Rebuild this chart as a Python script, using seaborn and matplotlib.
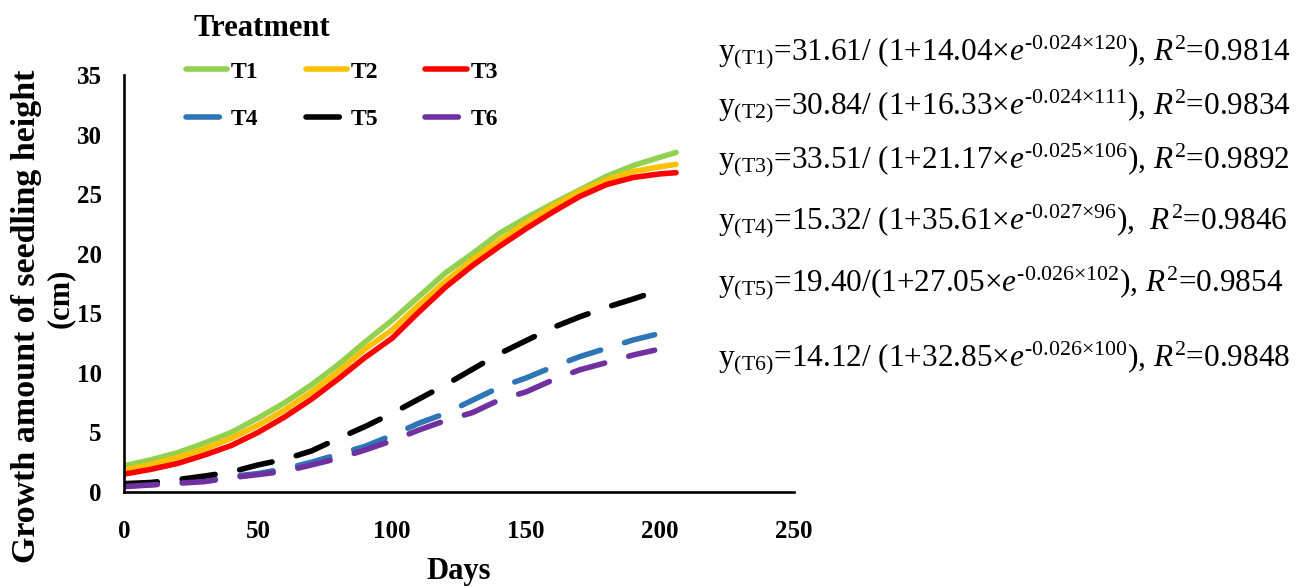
import numpy as np
import pandas as pd
import matplotlib
matplotlib.use("Agg")
import matplotlib.pyplot as plt
import seaborn as sns

# values (cm)
days_solid = [0, 10, 20, 30, 40, 50, 60, 70, 80, 90, 100, 110, 120, 130, 140, 150, 160, 170, 180, 190, 200, 206]
days_dash = [0, 10, 20, 30, 40, 50, 60, 70, 80, 90, 100, 110, 120, 130, 140, 150, 160, 170, 180, 190, 198]

t1 = [2.2, 2.7, 3.3, 4.1, 5.0, 6.2, 7.5, 9.0, 10.7, 12.6, 14.4, 16.4, 18.4, 20.0, 21.7, 23.0, 24.2, 25.35, 26.5, 27.4, 28.1, 28.5]
t2 = [1.85, 2.3, 2.9, 3.6, 4.5, 5.6, 6.9, 8.4, 10.1, 12.0, 13.6, 15.7, 17.7, 19.5, 21.1, 22.6, 24.0, 25.2, 26.2, 26.9, 27.3, 27.5]
t3 = [1.5, 1.9, 2.4, 3.1, 3.9, 5.0, 6.3, 7.8, 9.5, 11.3, 12.9, 15.1, 17.2, 19.0, 20.6, 22.1, 23.5, 24.8, 25.8, 26.4, 26.7, 26.8]
t4 = [0.5, 0.62, 0.78, 0.95, 1.3, 1.55, 1.95, 2.5, 3.17, 3.84, 4.75, 5.77, 6.6, 7.7, 8.78, 9.57, 10.5, 11.36, 12.06, 12.76, 13.2]
t5 = [0.7, 0.8, 1.04, 1.34, 1.68, 2.27, 2.75, 3.45, 4.5, 5.5, 6.6, 7.8, 9.0, 10.3, 11.6, 12.7, 13.8, 14.7, 15.5, 16.2, 16.8]
t6 = [0.45, 0.59, 0.73, 0.87, 1.2, 1.46, 1.74, 2.27, 2.83, 3.53, 4.3, 5.2, 6.0, 6.66, 7.72, 8.4, 9.4, 10.25, 10.86, 11.5, 11.9]

treatments = ["T1", "T2", "T3", "T4", "T5", "T6"]
colors = ["#92D050", "#FFC000", "#FF0000", "#2E75B6", "#000000", "#7030A0"]

equations = [
    r"y$_{\rm (T1)}$=31.61/ (1+14.04×$e^{\text{-0.024×120}}$), $R^{\rm 2}$=0.9814",
    r"y$_{\rm (T2)}$=30.84/ (1+16.33×$e^{\text{-0.024×111}}$), $R^{\rm 2}$=0.9834",
    r"y$_{\rm (T3)}$=33.51/ (1+21.17×$e^{\text{-0.025×106}}$), $R^{\rm 2}$=0.9892",
    r"y$_{\rm (T4)}$=15.32/ (1+35.61×$e^{\text{-0.027×96}}$),  $R^{\rm 2}$=0.9846",
    r"y$_{\rm (T5)}$=19.40/(1+27.05×$e^{\text{-0.026×102}}$), $R^{\rm 2}$=0.9854",
    r"y$_{\rm (T6)}$=14.12/ (1+32.85×$e^{\text{-0.026×100}}$), $R^{\rm 2}$=0.9848",
]
eq_y = [52, 106, 160, 221, 283, 358]  # pixel rows of the equation lines


def build_frame():
    rows = []
    for name, vals in zip(treatments, [t1, t2, t3, t4, t5, t6]):
        xs = days_solid if name in ("T1", "T2", "T3") else days_dash
        for d, v in zip(xs, vals):
            rows.append({"Days": d, "Growth": v, "Treatment": name})
    return pd.DataFrame(rows)


def main():
    sns.set_style("white")
    plt.rcParams["font.family"] = ["Liberation Serif", "DejaVu Serif"]
    plt.rcParams["mathtext.fontset"] = "custom"
    plt.rcParams["mathtext.rm"] = "Liberation Serif"
    plt.rcParams["mathtext.it"] = "Liberation Serif:italic"
    plt.rcParams["mathtext.bf"] = "Liberation Serif:bold"
    for key in ["text.color", "axes.labelcolor", "xtick.color", "ytick.color"]:
        plt.rcParams[key] = "black"

    df = build_frame()
    W, H = 1299, 588
    fig = plt.figure(figsize=(W / 100, H / 100), dpi=100)
    ax = fig.add_axes([124 / W, (H - 492) / H, 670 / W, 417 / H])

    dash_map = {t: "" for t in treatments[:3]}
    dash_map.update({t: (6, 4.5) for t in treatments[3:]})
    sns.lineplot(data=df, x="Days", y="Growth", hue="Treatment", style="Treatment",
                 hue_order=treatments, style_order=treatments,
                 palette=dict(zip(treatments, colors)), dashes=dash_map,
                 legend=False, ax=ax)
    for line in ax.get_lines():
        line.set_linewidth(4.0)
        line.set_dash_capstyle("round")
        line.set_solid_capstyle("round")

    ax.set_xlim(0, 250)
    ax.set_ylim(0, 35)
    ax.set_xticks(range(0, 251, 50))
    ax.set_yticks(range(0, 36, 5))
    for s in ["top", "right"]:
        ax.spines[s].set_visible(False)
    for s in ["left", "bottom"]:
        ax.spines[s].set_linewidth(1.9)
        ax.spines[s].set_color("black")
    ax.tick_params(axis="x", direction="in", length=6, width=1.9, pad=20, labelsize=18)
    ax.tick_params(axis="y", direction="in", length=6, width=1.9, pad=16, labelsize=18)
    for lab in ax.get_xticklabels() + ax.get_yticklabels():
        lab.set_fontweight("bold")

    ax.set_xlabel("Days", fontsize=22, fontweight="bold", labelpad=10)
    ax.set_ylabel("Growth amount of seedling height", fontsize=24.5, fontweight="bold")
    ax.yaxis.set_label_coords((42 - 124) / 670, (492 - 316) / 417)
    fig.text(60 / W, 1 - 298 / H, "(cm)", fontsize=22, fontweight="bold",
             rotation=90, ha="center", va="center")

    fig.text(193 / W, 1 - 28 / H, "Treatment", fontsize=22, fontweight="bold",
             ha="left", va="center")
    lines = ax.get_lines()[:6]
    order = [0, 3, 1, 4, 2, 5]
    fig.legend([lines[i] for i in order], [treatments[i] for i in order],
               ncol=3, loc="upper left", bbox_to_anchor=(186 / W, 1 - 61 / H),
               frameon=False, borderpad=0, borderaxespad=0,
               prop={"weight": "bold", "size": 17},
               handlelength=1.75, handletextpad=0.15, columnspacing=2.0,
               labelspacing=1.1)

    for txt, py in zip(equations, eq_y):
        fig.text(718 / W, 1 - py / H, txt, fontsize=22.5, ha="left", va="center")

    fig.savefig("out.png", dpi=100)


if __name__ == "__main__":
    main()
